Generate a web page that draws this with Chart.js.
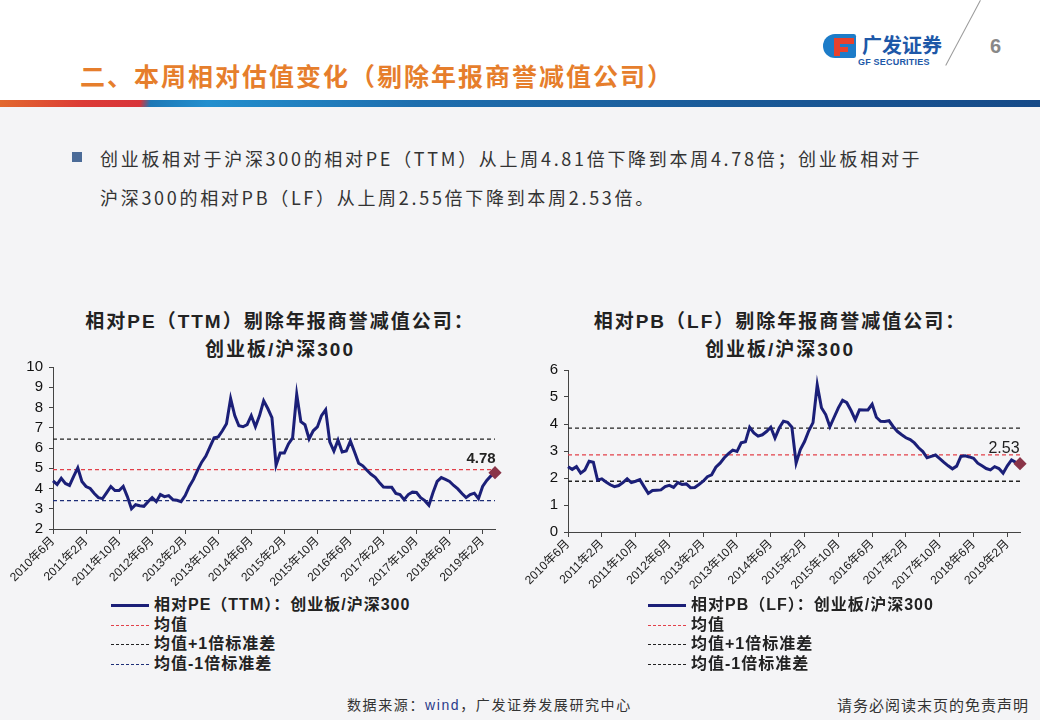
<!DOCTYPE html>
<html>
<head>
<meta charset="utf-8">
<script src="https://cdn.jsdelivr.net/npm/chart.js@4.4.0/dist/chart.umd.min.js"></script>
<style>
   body { margin:0; width:1040px; height:720px; position:relative; overflow:hidden; background:#f4f4f6;
          font-family:"Liberation Sans","Noto Sans CJK SC",sans-serif; color:#222; }
   .abs { position:absolute; }
   .header { left:0; top:0; width:1040px; height:100px; background:#fff; }
   .bar { left:0; top:100px; width:1040px; height:7px;
          background:linear-gradient(100deg,#e2692e 0%,#dc3b36 8%,#d8343a 13.5%,#1d78b6 14.5%,#238fce 20%,#1e6eae 40%,#1a5a98 70%,#164a88 100%); }
   .title { left:80px; top:57px; font-size:25px; letter-spacing:2px; color:#e67e2c; font-weight:bold;
            font-family:"Noto Sans CJK SC",sans-serif; white-space:nowrap; }
   .slash { left:980px; top:0; width:1px; height:74px; background:#999; transform:rotate(28deg); transform-origin:top left; }
   .pageno { left:990px; top:35px; font-size:20px; color:#888; font-weight:bold; }
   .logo1 { left:862px; top:30px; font-size:20px; font-weight:bold; color:#1d58a8; font-family:"Noto Sans CJK SC",sans-serif; }
   .logo2 { left:858px; top:57px; font-size:9px; font-weight:bold; color:#1d58a8; letter-spacing:0.2px; }
   .icon { left:823px; top:34px; width:33px; height:24px; border-radius:16px 3px 3px 16px; background:#1d7cc8; }
   .icon b { position:absolute; left:11px; top:4px; width:20px; height:6px; background:#e8412c; }
   .icon i { position:absolute; left:11px; top:13px; width:14px; height:5px; background:#e8412c; }
   .icon u { position:absolute; left:11px; top:4px; width:6px; height:18px; background:#e8412c; }
   .bullet { left:72px; top:152px; width:10px; height:10px; background:#4b6b98; }
   .text { left:100px; font-size:18px; letter-spacing:2.7px; color:#333; white-space:nowrap; font-family:"Noto Sans CJK SC",sans-serif; }
   .ctitle { font-size:19px; letter-spacing:2px; font-weight:bold; text-align:center; white-space:nowrap; line-height:28px; color:#222; }
   .legend { font-size:16px; letter-spacing:1px; font-weight:bold; color:#222; }
   .legend div { height:19.5px; line-height:19.5px; white-space:nowrap; }
   .legend span { display:inline-block; width:38px; vertical-align:middle; margin-right:5px; }
   .foot { top:694px; font-size:14px; letter-spacing:1.6px; color:#333; white-space:nowrap; font-family:"Noto Sans CJK SC",sans-serif; }
   canvas { position:absolute; }
</style>
</head>
<body>
<div class="abs header"></div>
<div class="abs bar"></div>
<div class="abs title">二、本周相对估值变化（剔除年报商誉减值公司）</div>
<div class="abs icon"><b></b><i></i><u></u></div>
<div class="abs logo1">广发证券</div>
<div class="abs logo2">GF SECURITIES</div>
<div class="abs slash"></div>
<div class="abs pageno">6</div>

<div class="abs bullet"></div>
<div class="abs text" style="top:145px">创业板相对于沪深300的相对PE（TTM）从上周4.81倍下降到本周4.78倍；创业板相对于</div>
<div class="abs text" style="top:184px">沪深300的相对PB（LF）从上周2.55倍下降到本周2.53倍。</div>

<div class="abs ctitle" style="left:80px;width:400px;top:308px">相对PE（TTM）剔除年报商誉减值公司：<br>创业板/沪深300</div>
<div class="abs ctitle" style="left:580px;width:400px;top:308px">相对PB（LF）剔除年报商誉减值公司：<br>创业板/沪深300</div>

<canvas id="peChart" width="510" height="242" style="left:0;top:352px"></canvas>
<canvas id="pbChart" width="520" height="242" style="left:520px;top:355px"></canvas>

<div class="abs legend" style="left:111px;top:595px">
   <div><span style="border-top:3px solid #1b1f78"></span>相对PE（TTM）：创业板/沪深300</div>
   <div><span style="border-top:1.5px dashed #e2404a"></span>均值</div>
   <div><span style="border-top:1.5px dashed #222"></span>均值+1倍标准差</div>
   <div><span style="border-top:1.5px dashed #1e2e78"></span>均值-1倍标准差</div>
</div>
<div class="abs legend" style="left:648px;top:595px">
   <div><span style="border-top:3px solid #1b1f78"></span>相对PB（LF）：创业板/沪深300</div>
   <div><span style="border-top:1.5px dashed #e2404a"></span>均值</div>
   <div><span style="border-top:1.5px dashed #222"></span>均值+1倍标准差</div>
   <div><span style="border-top:1.5px dashed #222"></span>均值-1倍标准差</div>
</div>

<div class="abs foot" style="left:347px">数据来源：<span style="color:#2a3a8a;font-family:'Liberation Sans'">wind</span>，广发证券发展研究中心</div>
<div class="abs foot" style="left:837px;font-size:15px;letter-spacing:1px">请务必阅读末页的免责声明</div>

<script>
'use strict';

// monthly, 2010年6月 .. 2019年5月
var startYear = 2010, startMonth = 6;
var tickLabels = ['2010年6月', '2011年2月', '2011年10月', '2012年6月', '2013年2月', '2013年10月', '2014年6月',
                  '2015年2月', '2015年10月', '2016年6月', '2017年2月', '2017年10月', '2018年6月', '2019年2月'];
var tickEvery = 8;

var peValues = [4.38, 4.2, 4.5, 4.25, 4.15, 4.6, 5.02, 4.35, 4.1, 4.0,
                3.75, 3.55, 3.5, 3.8, 4.1, 3.9, 3.9, 4.1, 3.6, 3.0,
                3.2, 3.15, 3.12, 3.35, 3.55, 3.35, 3.7, 3.6, 3.65, 3.45,
                3.42, 3.35, 3.65, 4.1, 4.45, 4.9, 5.3, 5.6, 6.05, 6.5,
                6.55, 6.85, 7.2, 8.44, 7.6, 7.1, 7.05, 7.15, 7.6, 7.05,
                7.6, 8.33, 7.95, 7.5, 5.15, 5.75, 5.75, 6.2, 6.5, 8.65,
                7.3, 7.15, 6.45, 6.85, 7.04, 7.6, 7.89, 6.3, 5.85, 6.39,
                5.8, 5.85, 6.34, 5.8, 5.25, 5.12, 4.9, 4.7, 4.55, 4.3,
                4.07, 4.06, 4.06, 3.76, 3.7, 3.45, 3.7, 3.82, 3.8, 3.55,
                3.4, 3.17, 3.8, 4.35, 4.54, 4.45, 4.35, 4.15, 3.98, 3.75,
                3.55, 3.7, 3.77, 3.5, 4.1, 4.4, 4.62, 4.78];
var peMean = 4.93, peUpper = 6.44, peLower = 3.4;

var pbValues = [2.42, 2.32, 2.42, 2.18, 2.3, 2.62, 2.58, 1.92, 1.97, 1.85,
                1.75, 1.68, 1.72, 1.83, 1.97, 1.83, 1.88, 1.94, 1.68, 1.43,
                1.54, 1.55, 1.56, 1.68, 1.73, 1.65, 1.83, 1.76, 1.78, 1.64,
                1.65, 1.76, 1.88, 2.05, 2.12, 2.4, 2.55, 2.75, 2.9, 3.03,
                2.98, 3.3, 3.34, 3.88, 3.67, 3.55, 3.6, 3.72, 3.88, 3.48,
                3.85, 4.1, 4.06, 3.88, 2.55, 3.05, 3.35, 3.75, 4.05, 5.45,
                4.6, 4.35, 3.9, 4.25, 4.6, 4.88, 4.79, 4.5, 4.16, 4.53,
                4.52, 4.52, 4.73, 4.25, 4.1, 4.09, 4.12, 3.9, 3.72, 3.6,
                3.49, 3.42, 3.3, 3.12, 2.98, 2.75, 2.8, 2.85, 2.72, 2.58,
                2.45, 2.34, 2.44, 2.8, 2.82, 2.78, 2.73, 2.55, 2.45, 2.35,
                2.3, 2.42, 2.35, 2.18, 2.45, 2.67, 2.58, 2.53];
var pbMean = 2.86, pbUpper = 3.85, pbLower = 1.88;

var months = [];
for (var i = 0; i < peValues.length; i++) {
   var m = startMonth - 1 + i;
   months.push((startYear + Math.floor(m / 12)) + '年' + (m % 12 + 1) + '月');
}

Chart.defaults.font.family = '"Liberation Sans", "Noto Sans CJK SC", sans-serif';
Chart.defaults.color = '#111';

function flat(v) {
   return months.map(function () { return v; });
}

var lastLabel = {
   id: 'lastLabel',
   afterDatasetsDraw: function (chart, args, opts) {
      var meta = chart.getDatasetMeta(0);
      var pt = meta.data[meta.data.length - 1];
      var ctx = chart.ctx;
      ctx.save();
      ctx.font = opts.font;
      ctx.fillStyle = '#222';
      ctx.textAlign = 'center';
      ctx.textBaseline = 'bottom';
      ctx.fillText(opts.text, pt.x + opts.dx, pt.y + opts.dy);
      ctx.restore();
   }
};

function makeChart(id, values, mean, upper, lower, lowerColor, yMin, yMax, axisWidth, padRight, label) {
   var last = values.length - 1;
   var dash = { fill: false, pointRadius: 0, borderWidth: 1.3, borderDash: [4, 3], tension: 0 };
   return new Chart(document.getElementById(id), {
      type: 'line',
      data: {
         labels: months,
         datasets: [
            { data: values, borderColor: '#1b1f78', borderWidth: 3, tension: 0, fill: false,
              pointRadius: function (c) { return c.dataIndex === last ? 4.5 : 0; },
              pointStyle: 'rectRot', pointBackgroundColor: '#8a3448', pointBorderColor: '#8a3448', order: 0 },
            Object.assign({ data: flat(mean), borderColor: '#e2404a', order: 1 }, dash),
            Object.assign({ data: flat(upper), borderColor: '#222', order: 1 }, dash),
            Object.assign({ data: flat(lower), borderColor: lowerColor, order: 1 }, dash)
         ]
      },
      plugins: [lastLabel],
      options: {
         responsive: false,
         animation: false,
         clip: false,
         layout: { padding: { top: 10, right: padRight, left: 0, bottom: 0 } },
         plugins: { legend: { display: false }, tooltip: { enabled: false }, lastLabel: label },
         scales: {
            x: {
               offset: false,
               border: { color: '#444', width: 1 },
               grid: { drawOnChartArea: false, drawTicks: true, tickLength: 5, color: '#444' },
               ticks: {
                  autoSkip: false, minRotation: 45, maxRotation: 45, padding: 0,
                  font: { size: 12 }, color: '#222',
                  callback: function (v, i) { return i % tickEvery === 0 ? tickLabels[i / tickEvery] : null; }
               },
               afterFit: function (s) { s.height = 65; }
            },
            y: {
               min: yMin, max: yMax,
               border: { color: '#444', width: 1 },
               grid: { drawOnChartArea: false, drawTicks: true, tickLength: 4, color: '#444' },
               ticks: { stepSize: 1, autoSkip: false, font: { size: 15 }, color: '#111', padding: 6 },
               afterFit: function (s) { s.width = axisWidth; }
            }
         }
      }
   });
}

makeChart('peChart', peValues, peMean, peUpper, peLower, '#1e2e78', 2, 10, 53, 15,
          { text: '4.78', font: 'bold 15px "Liberation Sans"', dx: -14, dy: -6 });
makeChart('pbChart', pbValues, pbMean, pbUpper, pbLower, '#222', 0, 6, 48, 20,
          { text: '2.53', font: '16px "Liberation Sans"', dx: -16, dy: -7 });
</script>
</body>
</html>
